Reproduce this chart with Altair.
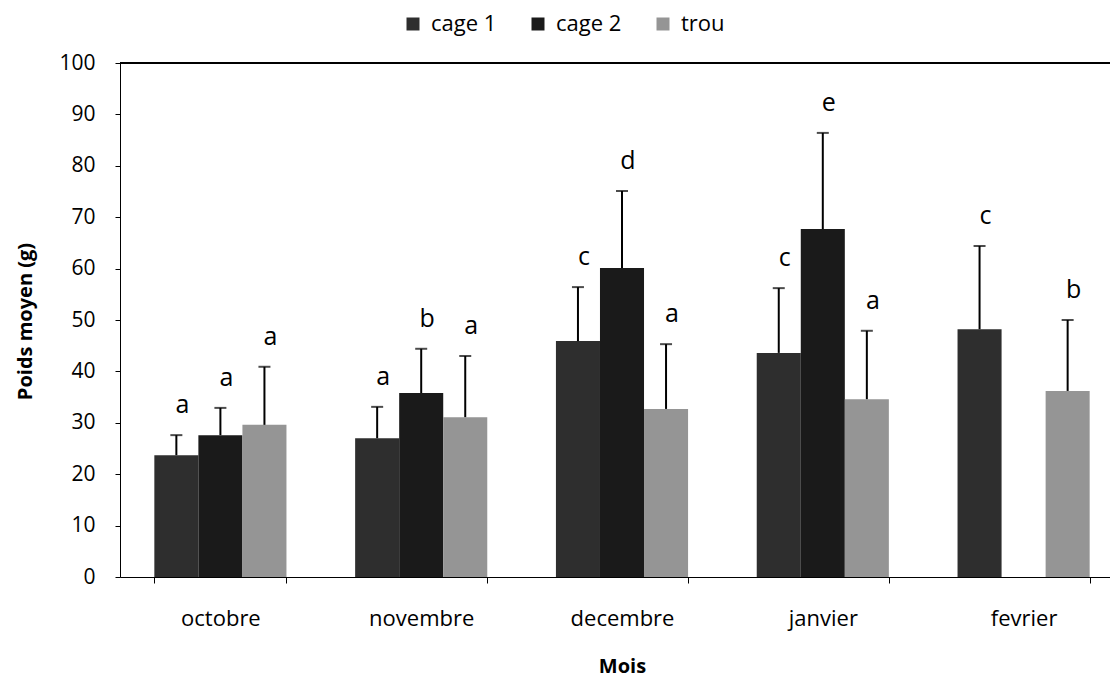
import altair as alt
import pandas as pd

months = ["octobre", "novembre", "decembre", "janvier", "fevrier"]
series = ["cage 1", "cage 2", "trou"]

cage1_mean = [23.7, 27.0, 45.9, 43.6, 48.2]
cage2_mean = [27.6, 35.8, 60.1, 67.7, None]
trou_mean = [29.6, 31.1, 32.7, 34.6, 36.2]

cage1_err = [3.9, 6.1, 10.5, 12.6, 16.2]
cage2_err = [5.3, 8.6, 15.0, 18.7, None]
trou_err = [11.3, 11.9, 12.6, 13.3, 13.8]

cage1_letters = ["a", "a", "c", "c", "c"]
cage2_letters = ["a", "b", "d", "e", None]
trou_letters = ["a", "a", "a", "a", "b"]

colors = ["#2e2e2e", "#1a1a1a", "#959595"]
FONT = "Open Sans"

rows = []
for s, means, errs, lets in zip(
    series,
    [cage1_mean, cage2_mean, trou_mean],
    [cage1_err, cage2_err, trou_err],
    [cage1_letters, cage2_letters, trou_letters],
):
    for m, v, e, l in zip(months, means, errs, lets):
        if v is None:
            continue
        rows.append(dict(mois=m, serie=s, poids=v, haut=v + e, lettre=l))
df = pd.DataFrame(rows)

x_enc = alt.X(
    "mois:N",
    sort=months,
    scale=alt.Scale(domain=months, range=[0, 1004], paddingInner=0.342, paddingOuter=0.171),
    axis=alt.Axis(
        title="Mois",
        labelFontSize=22,
        labelFont=FONT,
        labelColor="black",
        labelAngle=0,
        labelPadding=25,
        tickBand="extent",
        tickSize=6,
        tickColor="black",
        domainColor="black",
        titleFontSize=20,
        titleFont=FONT,
        titleFontWeight="bold",
        titleColor="black",
        titleY=89,
        titleX=502,
        titleBaseline="middle",
    ),
)
xoff = alt.XOffset(
    "serie:N",
    sort=series,
    scale=alt.Scale(domain=series, paddingInner=0, paddingOuter=0),
)
y_scale = alt.Scale(domain=[0, 100], nice=False)

base = alt.Chart(df)

bars = base.mark_bar().encode(
    x=x_enc,
    xOffset=xoff,
    y=alt.Y(
        "poids:Q",
        scale=y_scale,
        axis=alt.Axis(
            title="Poids moyen (g)",
            values=list(range(0, 101, 10)),
            grid=False,
            labelFontSize=21,
            labelFont=FONT,
            labelColor="black",
            labelPadding=20,
            tickSize=5,
            tickColor="black",
            domainColor="black",
            titleFontSize=20,
            titleFont=FONT,
            titleFontWeight="bold",
            titleColor="black",
            titleX=-95,
            titleY=258,
            titleBaseline="middle",
        ),
    ),
    color=alt.Color(
        "serie:N",
        sort=series,
        scale=alt.Scale(domain=series, range=colors),
        legend=alt.Legend(
            title=None,
            orient="none",
            direction="horizontal",
            legendX=282,
            legendY=-50,
            symbolType="square",
            symbolSize=169,
            symbolStrokeWidth=0,
            labelFontSize=22,
            labelFont=FONT,
            labelColor="black",
            labelOffset=7,
            columnPadding=30,
            padding=0,
        ),
    ),
)

err_rule = base.mark_rule(color="black", strokeWidth=2).encode(
    x=x_enc, xOffset=xoff, y=alt.Y("poids:Q", scale=y_scale), y2="haut:Q"
)

err_cap = base.mark_tick(color="black", thickness=2, size=12).encode(
    x=x_enc, xOffset=xoff, y=alt.Y("haut:Q", scale=y_scale)
)

letters = base.mark_text(
    baseline="bottom", dy=-17, dx=6, fontSize=25, font=FONT, color="black"
).encode(x=x_enc, xOffset=xoff, y=alt.Y("haut:Q", scale=y_scale), text="lettre:N")

top_line = alt.Chart(df).mark_rule(color="black", strokeWidth=1).encode(
    x=alt.value(0), x2=alt.value(1004), y=alt.value(0)
)

chart = (
    alt.layer(bars, err_rule, err_cap, letters, top_line)
    .properties(
        width=990,
        height=514,
        autosize=alt.AutoSizeParams(type="none"),
        padding={"left": 112, "top": 55, "right": 0, "bottom": 104},
    )
    .configure_view(stroke=None)
    .configure(font=FONT)
)

chart.save("out.html", embed_options={"renderer": "svg", "actions": False})
